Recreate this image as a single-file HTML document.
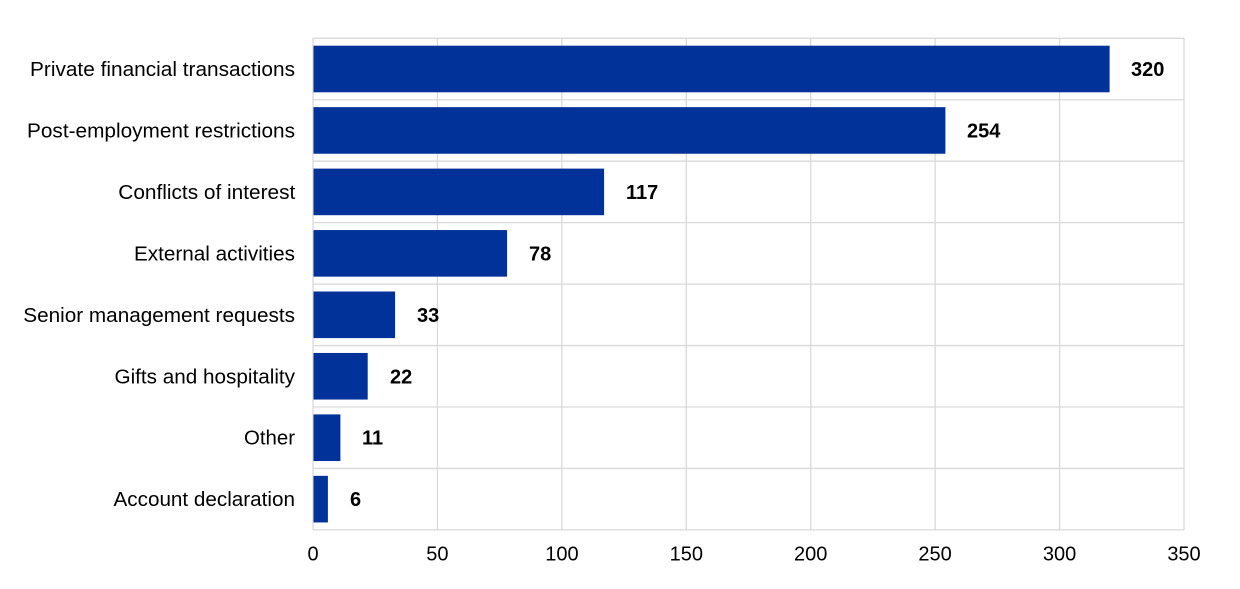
<!DOCTYPE html>
<html>
<head>
<meta charset="utf-8">
<style>
html,body{margin:0;padding:0;background:#fff;}
svg{display:block;}
text{font-family:"Liberation Sans",Arial,sans-serif;fill:#000;}
</style>
</head>
<body>
<svg width="1240" height="589" viewBox="0 0 1240 589" xmlns="http://www.w3.org/2000/svg">
  <g stroke="#d9d9d9" stroke-width="1.3" fill="none">
    <line x1="313" y1="38.3" x2="313" y2="529.9"/>
    <line x1="437.4" y1="38.3" x2="437.4" y2="529.9"/>
    <line x1="561.9" y1="38.3" x2="561.9" y2="529.9"/>
    <line x1="686.3" y1="38.3" x2="686.3" y2="529.9"/>
    <line x1="810.7" y1="38.3" x2="810.7" y2="529.9"/>
    <line x1="935.1" y1="38.3" x2="935.1" y2="529.9"/>
    <line x1="1059.6" y1="38.3" x2="1059.6" y2="529.9"/>
    <line x1="1184" y1="38.3" x2="1184" y2="529.9"/>
    <line x1="313" y1="38.3" x2="1184" y2="38.3"/>
    <line x1="313" y1="99.75" x2="1184" y2="99.75"/>
    <line x1="313" y1="161.2" x2="1184" y2="161.2"/>
    <line x1="313" y1="222.65" x2="1184" y2="222.65"/>
    <line x1="313" y1="284.1" x2="1184" y2="284.1"/>
    <line x1="313" y1="345.55" x2="1184" y2="345.55"/>
    <line x1="313" y1="407" x2="1184" y2="407"/>
    <line x1="313" y1="468.45" x2="1184" y2="468.45"/>
    <line x1="313" y1="529.9" x2="1184" y2="529.9"/>
  </g>
  <g fill="#003299">
    <rect x="313.5" y="45.7" width="796.1" height="46.6"/>
    <rect x="313.5" y="107.15" width="631.9" height="46.6"/>
    <rect x="313.5" y="168.6" width="290.6" height="46.6"/>
    <rect x="313.5" y="230.05" width="193.6" height="46.6"/>
    <rect x="313.5" y="291.5" width="81.6" height="46.6"/>
    <rect x="313.5" y="352.95" width="54.2" height="46.6"/>
    <rect x="313.5" y="414.4" width="26.9" height="46.6"/>
    <rect x="313.5" y="475.85" width="14.4" height="46.6"/>
  </g>
  <g font-size="20">
    <text x="30" y="76" textLength="265" lengthAdjust="spacingAndGlyphs">Private financial transactions</text>
    <text x="27" y="137.5" textLength="268" lengthAdjust="spacingAndGlyphs">Post-employment restrictions</text>
    <text x="118.3" y="198.9" textLength="177" lengthAdjust="spacingAndGlyphs">Conflicts of interest</text>
    <text x="134" y="260.4" textLength="161" lengthAdjust="spacingAndGlyphs">External activities</text>
    <text x="23.3" y="321.8" textLength="271.7" lengthAdjust="spacingAndGlyphs">Senior management requests</text>
    <text x="114.5" y="383.3" textLength="180.5" lengthAdjust="spacingAndGlyphs">Gifts and hospitality</text>
    <text x="244" y="444.7" textLength="51" lengthAdjust="spacingAndGlyphs">Other</text>
    <text x="113.5" y="506.2" textLength="181.5" lengthAdjust="spacingAndGlyphs">Account declaration</text>
  </g>
  <g font-size="20" font-weight="bold">
    <text x="1131" y="76">320</text>
    <text x="967" y="137.5">254</text>
    <text x="626" y="198.9">117</text>
    <text x="529" y="260.4">78</text>
    <text x="417" y="321.8">33</text>
    <text x="390" y="383.3">22</text>
    <text x="362" y="444.7">11</text>
    <text x="350" y="506.2">6</text>
  </g>
  <g font-size="20" text-anchor="middle">
    <text x="313" y="560.5">0</text>
    <text x="437.4" y="560.5">50</text>
    <text x="561.9" y="560.5">100</text>
    <text x="686.3" y="560.5">150</text>
    <text x="810.7" y="560.5">200</text>
    <text x="935.1" y="560.5">250</text>
    <text x="1059.6" y="560.5">300</text>
    <text x="1184" y="560.5">350</text>
  </g>
</svg>
</body>
</html>
